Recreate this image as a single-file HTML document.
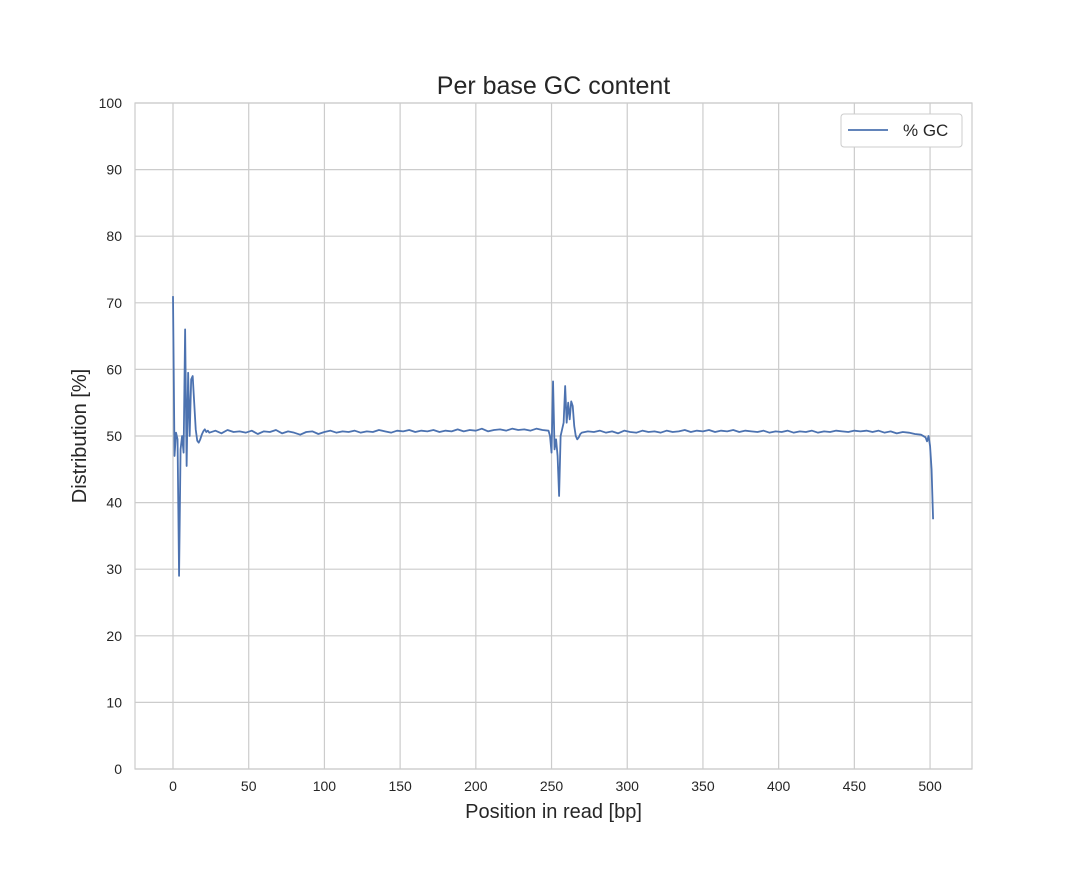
<!DOCTYPE html>
<html><head><meta charset="utf-8"><style>
body{margin:0;background:#fff;}
svg text{font-family:"Liberation Sans",Arial,sans-serif;fill:#262626;}
</style></head><body>
<svg id="chart" width="1080" height="864" xmlns="http://www.w3.org/2000/svg">
<text x="553.5" y="94" font-size="25" text-anchor="middle">Per base GC content</text>
<text x="553.5" y="818" font-size="20" text-anchor="middle">Position in read [bp]</text>
<text x="86" y="436" font-size="20" text-anchor="middle" transform="rotate(-90 86 436)">Distribution [%]</text>
<g id="grid"></g>
<g id="ticks"></g>
<rect x="135" y="103" width="837" height="666" fill="none" stroke="#cccccc" stroke-width="1.2"/>
<path id="series" fill="none" stroke="#4c72b0" stroke-width="1.8" stroke-linejoin="round"/>
<g>
<rect x="841" y="114" width="121" height="33" rx="3" fill="#fff" stroke="#cccccc"/>
<line x1="848" y1="130" x2="888" y2="130" stroke="#4c72b0" stroke-width="1.8"/>
<text x="903" y="136" font-size="17">% GC</text>
</g>
</svg>
<script>
const xTicks=[0,50,100,150,200,250,300,350,400,450,500];
const yTicks=[0,10,20,30,40,50,60,70,80,90,100];
const positions=[0,1,2,3,4,5,6,7,8,9,10,11,12,13,14,15,16,17,18,19,20,21,22,23,
24,28,32,36,40,44,48,52,56,60,64,68,72,76,80,84,88,92,96,100,104,108,112,116,120,124,128,132,136,140,144,148,152,156,160,164,168,172,176,180,184,188,192,196,200,204,208,212,216,220,224,228,232,236,240,244,
248,249,250,251,252,253,254,255,256,257,258,259,260,261,262,263,264,265,266,267,268,269,270,
274,278,282,286,290,294,298,302,306,310,314,318,322,326,330,334,338,342,346,350,354,358,362,366,370,374,378,382,386,390,394,398,402,406,410,414,418,422,426,430,434,438,442,446,450,454,458,462,466,470,474,478,482,486,490,494,
497,498,499,500,501,502];
const gcValues=[71.0,47.0,50.5,49.5,29.0,48.0,50.0,47.5,66.0,45.5,59.5,50.0,58.5,59.0,55.0,51.0,49.3,49.0,49.5,50.2,50.7,51.0,50.6,50.8,
50.5,50.8,50.4,50.9,50.6,50.7,50.5,50.8,50.3,50.7,50.6,50.9,50.4,50.7,50.5,50.2,50.6,50.7,50.3,50.6,50.8,50.5,50.7,50.6,50.8,50.5,50.7,50.6,50.9,50.7,50.5,50.8,50.7,50.9,50.6,50.8,50.7,50.9,50.6,50.8,50.7,51.0,50.7,50.9,50.8,51.1,50.7,50.9,51.0,50.8,51.1,50.9,51.0,50.8,51.1,50.9,
50.8,50.0,47.5,58.2,48.0,49.5,47.0,41.0,50.0,51.0,52.0,57.5,52.0,55.0,52.5,55.2,54.5,51.5,50.0,49.5,49.8,50.3,50.5,
50.7,50.6,50.8,50.5,50.7,50.4,50.8,50.6,50.5,50.8,50.6,50.7,50.5,50.8,50.6,50.7,50.9,50.6,50.8,50.7,50.9,50.6,50.8,50.7,50.9,50.6,50.8,50.7,50.6,50.8,50.5,50.7,50.6,50.8,50.5,50.7,50.6,50.8,50.5,50.7,50.6,50.8,50.7,50.6,50.8,50.7,50.8,50.6,50.8,50.5,50.7,50.4,50.6,50.5,50.3,50.2,
49.8,49.2,50.0,48.5,45.0,37.5];
const X0=135,X1=972,Y0=769,Y1=103,XMIN=-25.1,XMAX=527.7;
const xs=v=>X0+(v-XMIN)/(XMAX-XMIN)*(X1-X0);
const ys=v=>Y0+(v-0)/(100-0)*(Y1-Y0);
const NS='http://www.w3.org/2000/svg';
const grid=document.getElementById('grid'),ticks=document.getElementById('ticks');
xTicks.forEach(t=>{
 const l=document.createElementNS(NS,'line');
 
 
 l.setAttribute('x1',xs(t));l.setAttribute('x2',xs(t));l.setAttribute('y1',Y1);l.setAttribute('y2',Y0);
 l.setAttribute('stroke','#cccccc');l.setAttribute('stroke-width','1.2');grid.appendChild(l);
 const tx=document.createElementNS(NS,'text');
 
 
 tx.setAttribute('x',xs(t));tx.setAttribute('y',Y0+22);tx.setAttribute('font-size','14');tx.setAttribute('text-anchor','middle');
 tx.textContent=t;ticks.appendChild(tx);
});
yTicks.forEach(t=>{
 const l=document.createElementNS(NS,'line');
 
 
 l.setAttribute('x1',X0);l.setAttribute('x2',X1);l.setAttribute('y1',ys(t));l.setAttribute('y2',ys(t));
 l.setAttribute('stroke','#cccccc');l.setAttribute('stroke-width','1.2');grid.appendChild(l);
 const tx=document.createElementNS(NS,'text');
 
 
 tx.setAttribute('x',X0-13);tx.setAttribute('y',ys(t)+5);tx.setAttribute('font-size','14');tx.setAttribute('text-anchor','end');
 tx.textContent=t;ticks.appendChild(tx);
});
let d='';
positions.forEach((p,i)=>{d+=(i?'L':'M')+xs(p).toFixed(2)+','+ys(gcValues[i]).toFixed(2);});
document.getElementById('series').setAttribute('d',d);
</script>
</body></html>
